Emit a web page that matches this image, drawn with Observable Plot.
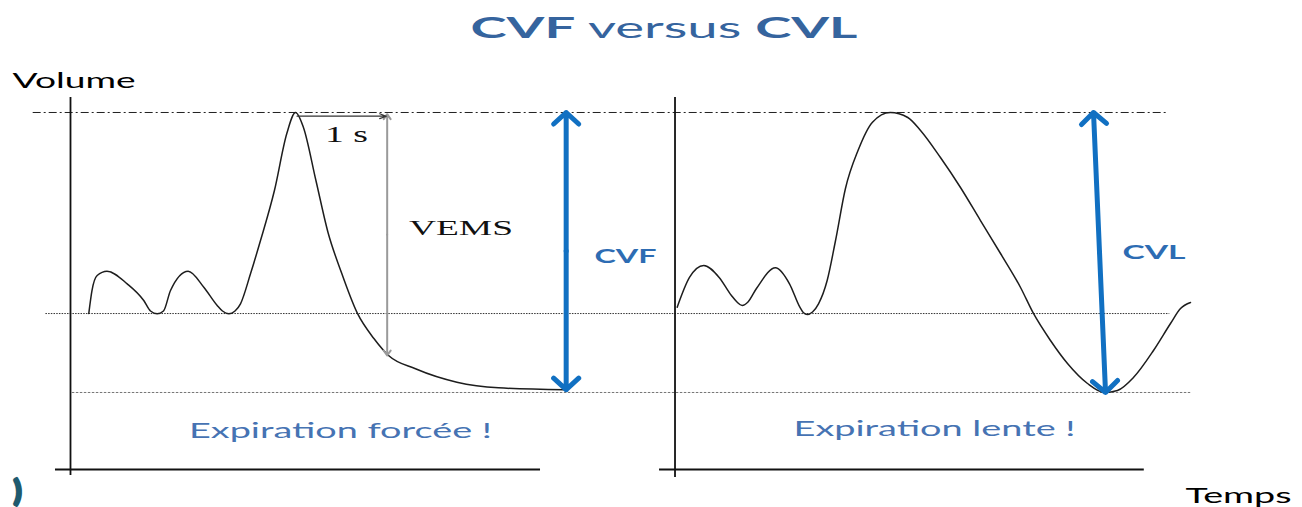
<!DOCTYPE html>
<html><head><meta charset="utf-8">
<script src="https://cdn.jsdelivr.net/npm/d3@7"></script>
<script src="https://cdn.jsdelivr.net/npm/@observablehq/plot@0.6"></script>
<style>
html,body{margin:0;padding:0;background:#fff;overflow:hidden;}
#title{position:relative;width:1302px;height:56px;}
#tt{position:absolute;top:9px;left:0;font-family:Lato,sans-serif;font-size:29px;line-height:36px;color:#35649e;white-space:nowrap;transform-origin:50% 50%;}
#tt b{font-weight:700}
#tt .v{font-weight:400}
</style></head><body>
<div id="title"><span id="tt"><b>CVF</b> <span class="v">versus</span> <b>CVL</b></span></div>
<div id="chart"></div>
<script>
// ---- Data (time in s, volume in L) ----
const forcedTime   = [0.201, 0.236, 0.293, 0.401, 0.623, 0.805, 0.879, 0.953, 1.022, 1.099, 1.293, 1.465, 1.612, 1.670, 1.740, 1.808, 1.868, 1.978, 2.088, 2.241, 2.377, 2.473, 2.559, 2.697, 2.833, 2.969, 3.152, 3.334, 3.495, 3.791, 4.246, 4.703, 5.432];
const forcedVolume = [2.911, 3.321, 3.589, 3.666, 3.441, 3.143, 2.955, 2.905, 2.955, 3.321, 3.666, 3.380, 3.054, 2.955, 2.905, 2.955, 3.084, 3.620, 4.214, 5.107, 6.125, 6.500, 6.238, 5.286, 4.339, 3.679, 2.916, 2.464, 2.161, 1.923, 1.684, 1.584, 1.548];

const slowTime   = [6.667, 6.802, 6.959, 7.126, 7.263, 7.324, 7.381, 7.445, 7.538, 7.747, 7.901, 8.015, 8.055, 8.096, 8.154, 8.220, 8.315, 8.407, 8.516, 8.654, 8.813, 9.009, 9.201, 9.341, 9.560, 9.780, 10.000, 10.220, 10.440, 10.582, 10.769, 10.956, 11.176, 11.363, 11.505, 11.681, 11.901, 12.088, 12.198, 12.308];
const slowVolume = [3.023, 3.554, 3.768, 3.559, 3.232, 3.116, 3.054, 3.116, 3.357, 3.727, 3.441, 3.023, 2.923, 2.893, 2.938, 3.084, 3.500, 4.214, 5.143, 5.821, 6.327, 6.500, 6.411, 6.179, 5.696, 5.161, 4.571, 3.982, 3.375, 2.911, 2.429, 2.018, 1.661, 1.500, 1.536, 1.768, 2.250, 2.732, 3.000, 3.107];

// reference levels: total lung capacity, resting level, residual volume
const levelNames   = ["CPT", "CRF", "VR"];
const levelVolumes = [6.5, 2.91, 1.5];
const levelFrom    = [-0.41, -0.27, 0.02];
const levelTo      = [12.07, 12.08, 12.31];

// the two panels
const panelTitles      = ["Expiration forcée !", "Expiration lente !"];
const panelAxisTime    = [0, 6.643];
const panelAxisBottom  = [0.02, -0.02];
const panelAxisTop     = [6.77, 6.77];
const panelBaseFrom    = [-0.165, 6.473];
const panelBaseTo      = [5.165, 11.80];
const panelBaseVolume  = [0.125, 0.125];
const panelTitleTime   = [2.967, 9.495];
const panelTitleVolume = [0.691, 0.732];

// capacity arrows
const capacityNames        = ["CVF", "CVL"];
const capacityTopTime      = [5.447, 11.242];
const capacityBottomTime   = [5.447, 11.374];
const capacityTopVolume    = [6.5, 6.5];
const capacityBottomVolume = [1.55, 1.5];
const capacityLabelTime    = [6.099, 11.907];
const capacityLabelVolume  = [3.821, 3.888];

// VEMS (volume after 1 s)
const vemsLabel = ["VEMS"];
const vemsTime = [3.48];
const vemsTopVolume = [6.47];
const vemsBottomVolume = [2.16];
const vemsLabelTime = [4.291];
const vemsLabelVolume = [4.321];
const oneSecondLabel = ["1 s"];
const oneSecondFrom = [2.49];
const oneSecondTo = [3.47];
const oneSecondVolume = [6.434];
const oneSecondLabelTime = [3.033];
const oneSecondLabelVolume = [5.97];

// axis titles
const axisTitles = ["Volume", "Temps"];
const axisTitleTime = [-0.637, 12.253];
const axisTitleVolume = [6.929, -0.47];

// ---- Tables built from the arrays ----
const forced = forcedTime.map((t, i) => ({t, v: forcedVolume[i]}));
const slow = slowTime.map((t, i) => ({t, v: slowVolume[i]}));
const levels = levelNames.map((name, i) => ({name, v: levelVolumes[i], from: levelFrom[i], to: levelTo[i]}));
const panels = panelTitles.map((title, i) => ({title, at: panelAxisTime[i], bottom: panelAxisBottom[i], top: panelAxisTop[i],
  from: panelBaseFrom[i], to: panelBaseTo[i], base: panelBaseVolume[i], tt: panelTitleTime[i], tv: panelTitleVolume[i]}));
const capacities = capacityNames.map((name, i) => {
  const t1 = capacityTopTime[i], t2 = capacityBottomTime[i], v1 = capacityTopVolume[i], v2 = capacityBottomVolume[i];
  return {name, t1, t2, v1, v2, tm: (t1 + t2) / 2, vm: (v1 + v2) / 2, lt: capacityLabelTime[i], lv: capacityLabelVolume[i]};
});
const vems = vemsLabel.map((name, i) => ({name, t: vemsTime[i], v1: vemsTopVolume[i], v2: vemsBottomVolume[i],
  vm: (vemsTopVolume[i] + vemsBottomVolume[i]) / 2, lt: vemsLabelTime[i], lv: vemsLabelVolume[i]}));
const oneSecond = oneSecondLabel.map((name, i) => ({name, t1: oneSecondFrom[i], t2: oneSecondTo[i], v: oneSecondVolume[i],
  lt: oneSecondLabelTime[i], lv: oneSecondLabelVolume[i]}));
const titles = axisTitles.map((name, i) => ({name, t: axisTitleTime[i], v: axisTitleVolume[i]}));

const blue = "#1170c2";
const sans = "Lato, sans-serif";
const serif = "Liberation Serif, serif";

const svg = Plot.plot({
  width: 1302,
  height: 451,
  margin: 0,
  x: {domain: [-0.7692, 13.5385], axis: null},
  y: {domain: [-0.5536, 7.5], axis: null},
  style: {fontFamily: sans, background: "white", overflow: "visible"},
  marks: [
    // reference levels
    Plot.ruleY(levels.filter(d => d.name === "CPT"), {y: "v", x1: "from", x2: "to", stroke: "#222", strokeWidth: 1, strokeDasharray: "8,3,2,3"}),
    Plot.ruleY(levels.filter(d => d.name === "CRF"), {y: "v", x1: "from", x2: "to", stroke: "#333", strokeWidth: 1, strokeDasharray: "1.5,1.2"}),
    Plot.ruleY(levels.filter(d => d.name === "VR"), {y: "v", x1: "from", x2: "to", stroke: "#777", strokeWidth: 1, strokeDasharray: "2.5,1.5"}),
    // panel axes
    Plot.ruleX(panels, {x: "at", y1: "bottom", y2: "top", stroke: "#111", strokeWidth: 1.8}),
    Plot.ruleY(panels, {y: "base", x1: "from", x2: "to", stroke: "#111", strokeWidth: 1.8}),
    // curves
    Plot.line(forced, {x: "t", y: "v", curve: "monotone-x", stroke: "#1d1d1d", strokeWidth: 1.5}),
    Plot.line(slow, {x: "t", y: "v", curve: "monotone-x", stroke: "#1d1d1d", strokeWidth: 1.5}),
    // VEMS grey double arrow
    Plot.arrow(vems, {x1: "t", x2: "t", y1: "vm", y2: "v1", stroke: "#9a9a9a", strokeWidth: 2, headAngle: 70, headLength: 4.5}),
    Plot.arrow(vems, {x1: "t", x2: "t", y1: "vm", y2: "v2", stroke: "#9a9a9a", strokeWidth: 2, headAngle: 70, headLength: 4.5}),
    // 1 s arrow
    Plot.arrow(oneSecond, {x1: "t1", x2: "t2", y1: "v", y2: "v", stroke: "#333", strokeWidth: 1.2, headAngle: 40, headLength: 8.75}),
    // capacity double arrows
    Plot.arrow(capacities, {x1: "tm", y1: "vm", x2: "t1", y2: "v1", stroke: blue, strokeWidth: 5, headAngle: 95, headLength: 5.1}),
    Plot.arrow(capacities, {x1: "tm", y1: "vm", x2: "t2", y2: "v2", stroke: blue, strokeWidth: 5, headAngle: 95, headLength: 5.1}),
    // labels
    Plot.text(capacities, {x: "lt", y: "lv", text: "name", fill: "#2d6cb3", fontWeight: 700, fontSize: 18.5, fontFamily: sans, lineAnchor: "bottom", textAnchor: "middle"}),
    Plot.text(panels, {x: "tt", y: "tv", text: "title", fill: "#4673b3", fontSize: 22, fontFamily: sans, lineAnchor: "bottom", textAnchor: "middle"}),
    Plot.text(vems, {x: "lt", y: "lv", text: "name", fill: "#111", fontSize: 21, fontFamily: serif, lineAnchor: "bottom", textAnchor: "middle"}),
    Plot.text(oneSecond, {x: "lt", y: "lv", text: "name", fill: "#111", fontSize: 23, fontFamily: serif, lineAnchor: "bottom", textAnchor: "middle"}),
    Plot.text(titles, {x: "t", y: "v", text: "name", fill: "#000", fontSize: 22, fontFamily: sans, lineAnchor: "bottom", textAnchor: "start"}),
    Plot.text([")"], {x: [-0.582], y: [-0.429], text: d => d, fill: "#1f5a6e", stroke: "#1f5a6e", strokeWidth: 3, fontWeight: 700, fontSize: 28, fontFamily: sans, lineAnchor: "bottom", textAnchor: "middle"})
  ]
});
document.getElementById("chart").appendChild(svg);

// stretch the labels to the wide lettering of the original slide
const stretch = {"Volume": 123, "Temps": 106, "1 s": 43, "VEMS": 104, "CVF": 62, "CVL": 63,
  "Expiration forcée !": 303, "Expiration lente !": 282};
svg.querySelectorAll("text").forEach(el => {
  const w = stretch[el.textContent];
  if (w) { el.setAttribute("textLength", w); el.setAttribute("lengthAdjust", "spacingAndGlyphs"); }
});

function fitTitle() {
  const tt = document.getElementById("tt");
  tt.style.transform = "none";
  const w = tt.offsetWidth;
  tt.style.left = (663.5 - w / 2) + "px";
  tt.style.transform = `scaleX(${387 / w})`;
}
fitTitle();
if (document.fonts) document.fonts.ready.then(fitTitle);
</script>
</body></html>
